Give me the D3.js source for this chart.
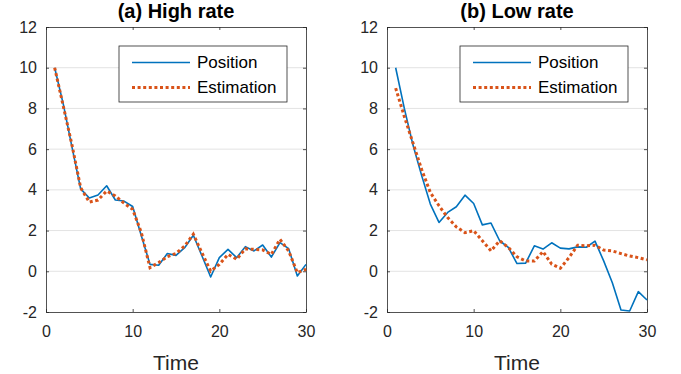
<!DOCTYPE html>
<html>
<head>
<meta charset="utf-8">
<script src="https://cdn.jsdelivr.net/npm/d3@7"></script>
<style>
  body { margin: 0; background: #fff; }
  svg { display: block; font-family: "Liberation Sans", Arial, Helvetica, sans-serif; }
</style>
</head>
<body>
<svg id="chart"></svg>
<script>
// time steps
const time = [1,2,3,4,5,6,7,8,9,10,11,12,13,14,15,16,17,18,19,20,21,22,23,24,25,26,27,28,29,30];

// (a) high rate
const highPosition = [10, 8.2, 6.1, 4.05, 3.6, 3.75, 4.2, 3.5, 3.45, 3.18, 1.75, 0.34, 0.3, 0.87, 0.78, 1.16, 1.77, 0.75, -0.28, 0.67,
                      1.08, 0.67, 1.21, 1.0, 1.29, 0.7, 1.41, 1.11, -0.23, 0.34];
const highEstimation = [10, 8.1, 6.2, 4.1, 3.4, 3.5, 3.94, 3.7, 3.35, 3.04, 1.9, 0.18, 0.43, 0.72, 0.88, 1.24, 1.82, 0.9, 0.01, 0.34,
                        0.83, 0.59, 1.1, 1.08, 1.05, 0.83, 1.57, 1.0, -0.07, 0.1];

// (b) low rate
const lowPosition = [10, 8.0, 6.2, 4.7, 3.3, 2.4, 2.89, 3.17, 3.74, 3.33, 2.28, 2.37, 1.5, 1.17, 0.38, 0.4, 1.25, 1.09, 1.4, 1.14,
                     1.1, 1.2, 1.18, 1.48, 0.51, -0.56, -1.9, -1.95, -1.0, -1.41];
const lowEstimation = [9.0, 7.6, 6.3, 5.0, 3.87, 3.22, 2.64, 2.18, 1.9, 1.99, 1.5, 1.0, 1.5, 1.17, 0.71, 0.51, 0.5, 0.97, 0.35, 0.15,
                       0.67, 1.28, 1.25, 1.28, 1.04, 1.0, 0.87, 0.75, 0.67, 0.56];

const xTicks = [0, 10, 20, 30];
const yTicks = [-2, 0, 2, 4, 6, 8, 10, 12];
const seriesNames = ["Position", "Estimation"];

const width = 681, height = 374;
const blue = "#0072BD", orange = "#D95319", axisColor = "#262626";

const svg = d3.select("#chart").attr("width", width).attr("height", height);

const panels = [
  { title: "(a) High rate", pos: highPosition, est: highEstimation, left: 46, right: 306, legendX: 119 },
  { title: "(b) Low rate", pos: lowPosition, est: lowEstimation, left: 387, right: 647, legendX: 460 }
];

const plotTop = 27, plotBottom = 312;

panels.forEach(p => {
  const x = d3.scaleLinear().domain([0, 30]).range([p.left, p.right]);
  const y = d3.scaleLinear().domain([-2, 12]).range([plotBottom, plotTop]);
  const g = svg.append("g");

  // grid
  g.append("g").selectAll("line")
    .data(yTicks.slice(1, -1))
    .enter().append("line")
      .attr("x1", p.left).attr("x2", p.right)
      .attr("y1", d => y(d)).attr("y2", d => y(d))
      .attr("stroke", "#e3e3e3").attr("stroke-width", 1);

  // axes (ticks inward, box on all sides)
  const ax = g.append("g").attr("transform", `translate(0,${plotBottom})`)
    .call(d3.axisBottom(x).tickValues(xTicks).tickSizeInner(-3).tickSizeOuter(0).tickPadding(14).tickFormat(d => d));
  const axTop = g.append("g").attr("transform", `translate(0,${plotTop})`)
    .call(d3.axisTop(x).tickValues(xTicks).tickSizeInner(-3).tickSizeOuter(0).tickFormat(""));
  const ay = g.append("g").attr("transform", `translate(${p.left},0)`)
    .call(d3.axisLeft(y).tickValues(yTicks).tickSizeInner(-3).tickSizeOuter(0).tickPadding(9).tickFormat(d => d));
  const ayR = g.append("g").attr("transform", `translate(${p.right},0)`)
    .call(d3.axisRight(y).tickValues(yTicks).tickSizeInner(-3).tickSizeOuter(0).tickFormat(""));

  [ax, axTop, ay, ayR].forEach(a => {
    a.select(".domain").attr("stroke", axisColor).attr("stroke-width", 0.8);
    a.selectAll(".tick line").attr("stroke", axisColor).attr("stroke-width", 0.8);
    a.selectAll(".tick text").attr("fill", "#262626").attr("font-size", 16).attr("font-family", null);
  });

  // lines
  const line = vals => d3.line().x((d, i) => x(time[i])).y(d => y(d))(vals);
  g.append("path").attr("d", line(p.pos))
    .attr("fill", "none").attr("stroke", blue).attr("stroke-width", 1.6).attr("stroke-linejoin", "round");
  g.append("path").attr("d", line(p.est))
    .attr("fill", "none").attr("stroke", orange).attr("stroke-width", 3).attr("stroke-dasharray", "3,2.6");

  // title
  g.append("text")
    .attr("x", (p.left + p.right) / 2).attr("y", 18)
    .attr("text-anchor", "middle").attr("font-weight", "bold").attr("font-size", 20)
    .attr("fill", "#000")
    .text(p.title);

  // x label
  g.append("text")
    .attr("x", (p.left + p.right) / 2).attr("y", 370)
    .attr("text-anchor", "middle").attr("font-size", 21).attr("fill", "#262626")
    .text("Time");

  // legend
  const lg = g.append("g").attr("transform", `translate(${p.legendX},46)`);
  lg.append("rect").attr("width", 168).attr("height", 56)
    .attr("fill", "#fff").attr("stroke", axisColor).attr("stroke-width", 0.8);
  seriesNames.forEach((name, i) => {
    const ly = 16.5 + i * 25;
    lg.append("line").attr("x1", 13).attr("x2", 71).attr("y1", ly).attr("y2", ly)
      .attr("stroke", i === 0 ? blue : orange)
      .attr("stroke-width", i === 0 ? 1.6 : 3)
      .attr("stroke-dasharray", i === 0 ? null : "3,2.6");
    lg.append("text").attr("x", 78).attr("y", ly).attr("dy", "0.35em")
      .attr("font-size", 17).attr("fill", "#000").text(name);
  });
});
</script>
</body>
</html>
